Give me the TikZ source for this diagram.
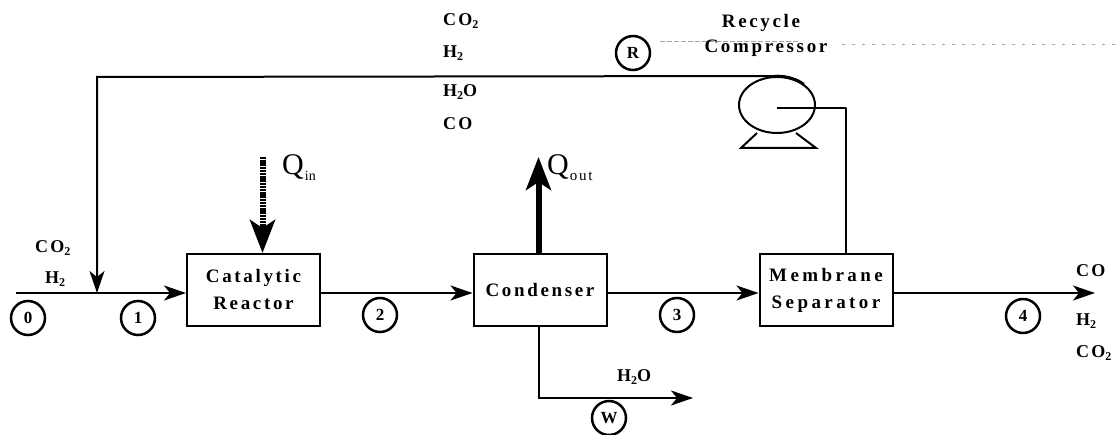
\documentclass[tikz,border=0pt]{standalone}
\usepackage{fontspec}
\setmainfont{Liberation Serif}
\usetikzlibrary{arrows.meta,calc,shapes.geometric}
\newfontfamily\lab[LetterSpace=12]{Liberation Serif Bold}
\newfontfamily\labmid[LetterSpace=14]{Liberation Serif Bold}
\newfontfamily\labwide[LetterSpace=18]{Liberation Serif Bold}
\newcommand{\lowsub}[1]{\raisebox{-3.5pt}{\fontsize{12}{12}\selectfont #1}}
\tikzset{
  line/.style={draw=black,line width=2pt},
  flow/.style={line,-{Stealth[length=22pt,width=15pt,inset=6pt]}},
  heat/.style={draw=black,line width=6pt},
  unit/.style={draw=black,line width=2pt,minimum width=133pt,minimum height=72pt,inner sep=0pt,align=center,fill=white},
  tag/.style={circle,draw=black,line width=2.5pt,minimum size=34pt,inner sep=0pt,font=\fontsize{17}{17}\selectfont\bfseries},
  chem/.style={anchor=west,inner sep=0pt,font=\lab\fontsize{18}{18}\selectfont},
  unittext/.style={font=\labmid\fontsize{19}{20}\selectfont},
  noise/.style={draw=gray!70,line width=0.6pt},
}
\begin{document}
\begin{tikzpicture}[x=1pt,y=-1pt]
\useasboundingbox (0,0) rectangle (1119,435);
% units
\node[unit,font=\labmid\fontsize{19}{27}\selectfont] (reactor) at (253.5,290) {Catalytic\\Reactor};
\node[unit,font=\labmid\fontsize{19}{27}\selectfont] (condenser) at (540,290) {Condenser};
\node[unit,font=\labwide\fontsize{19}{27}\selectfont] (membrane) at (826,290) {Membrane\\Separator};
% compressor
\node[draw=black,line width=2pt,ellipse,minimum width=76pt,minimum height=56pt,inner sep=0pt] (comp) at (777,105) {};
\coordinate (hub) at (777,108);
\coordinate (feed) at (16,293);
\coordinate (mix) at (97,293);
\coordinate (corner) at (97,77);
\coordinate (sepbend) at (846,108);
\coordinate (outend) at (1095,293);
\coordinate (wbend) at (538.5,398);
\coordinate (wend) at (693,398);
\coordinate (qinstart) at (262.5,157);
\coordinate (qoutend) at (538.5,157);
% stand
\draw[line] (757,133) -- (741,148) -- (816,148) -- (796,133);
% connectors
\draw[flow] (feed) -- (reactor.west |- feed);
\draw[flow] (reactor.east |- feed) -- (condenser.west |- feed);
\draw[flow] (condenser.east |- feed) -- (membrane.west |- feed);
\draw[flow] (membrane.east |- feed) -- (outend);
\draw[flow] (comp.north) -- (corner) -- (mix);
\draw[line,line width=2.6pt] (comp.north) arc[start angle=-90,end angle=-45,x radius=38,y radius=28];
\draw[line,line join=round] (hub) -- (sepbend) -- (sepbend |- membrane.north);
\draw[flow] (wbend |- condenser.south) -- (wbend) -- (wend);
\draw[heat,dash pattern=on 2.5pt off 0.7pt,-{Stealth[length=33pt,width=25pt,inset=8pt]}] (qinstart) -- (qinstart |- reactor.north);
\draw[heat,-{Stealth[length=33pt,width=25pt,inset=8pt]}] (qoutend |- condenser.north) -- (qoutend);
% stream tags
\node[tag] (s0) at (28,318) {0};
\node[tag] (s1) at (138,318) {1};
\node[tag] (s2) at (380,315) {2};
\node[tag] (s3) at (677,315) {3};
\node[tag] (s4) at (1023,316) {4};
\node[tag] (sR) at (633,53) {R};
\node[tag] (sW) at (609,418) {W};
% labels
\node[chem] (a1) at (443,21) {CO\lowsub{2}};
\node[chem] (a2) at (443,53) {H\lowsub{2}};
\node[chem] (a3) at (443,92) {H\lowsub{2}O};
\node[chem] (a4) at (443,124) {CO};
\node[chem] (b1) at (35,248) {CO\lowsub{2}};
\node[chem] (b2) at (45,279) {H\lowsub{2}};
\node[chem] (c1) at (1076,271) {CO};
\node[chem] (c2) at (1076,321) {H\lowsub{2}};
\node[chem] (c3) at (1076,353) {CO\lowsub{2}};
\node[chem] (d1) at (617,377) {H\lowsub{2}O};
% scan artefact above the compressor
\draw[noise,dash pattern=on 5pt off 2pt] (660,41) -- (800,41);
\draw[noise,dash pattern=on 3pt off 7pt] (842,44) -- (1119,44);
\node[unittext] (rc1) at (761,23) {Recycle};
\node[unittext] (rc2) at (766,48) {Compressor};
\node[anchor=west,inner sep=0pt] (qi) at (282,168) {\fontsize{30}{30}\selectfont Q\hspace{1pt}\raisebox{-6pt}{\fontsize{14}{14}\selectfont in}};
\node[anchor=west,inner sep=0pt] (qo) at (547,168) {\fontsize{30}{30}\selectfont Q\hspace{1pt}\raisebox{-6pt}{\addfontfeature{LetterSpace=12}\fontsize{15}{15}\selectfont out}};
\end{tikzpicture}
\end{document}
